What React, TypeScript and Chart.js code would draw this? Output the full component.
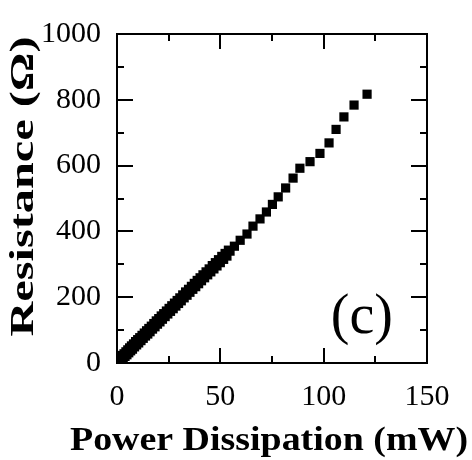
import React, { useEffect, useRef } from 'react';
import { Chart, registerables } from 'chart.js';

Chart.register(...registerables);

// Power dissipation (mW) and resistance (ohm).
// Dense low-power region: two interleaved sweeps; sparse high-power tail.
const powerMW = [
  0.2, 1.0, 1.8, 2.6, 3.4, 4.3, 5.2, 6.1, 7.0, 8.0, 9.0, 10.0, 11.0, 12.1, 13.2,
  14.3, 15.4, 16.6, 17.8, 19.0, 20.2, 21.4, 22.6, 23.9, 25.2, 26.5, 27.8, 29.1,
  30.4, 31.8, 33.2, 34.6, 36.0, 37.4, 38.8, 40.2, 41.6, 43.1, 44.6, 46.1, 47.6,
  49.1, 50.7, 52.3, 53.9,
  0.6, 1.4, 2.2, 3.0, 3.9, 4.8, 5.7, 6.6, 7.5, 8.5, 9.5, 10.5, 11.6, 12.7, 13.8,
  14.9, 16.0, 17.2, 18.4, 19.6, 20.8, 22.0, 23.3, 24.6, 25.9, 27.2, 28.5, 29.8,
  31.1, 32.5, 33.9, 35.3, 36.7, 38.1, 39.5, 40.9, 42.4, 43.9, 45.4, 46.9, 48.4,
  50.0, 51.6, 53.2,
  54.7, 56.8, 59.6, 62.9, 65.8, 69.2, 72.3, 75.2, 78.0, 81.6, 85.2, 88.5,
  93.4, 98.2, 102.6, 106.0, 109.8, 114.7, 121.0,
];
const resistanceOhm = [
  4, 12, 17, 23, 28, 34, 40, 46, 52, 58, 65, 71, 77, 84, 91,
  98, 105, 112, 120, 128, 135, 143, 150, 158, 166, 174, 182, 190,
  198, 207, 216, 224, 233, 242, 251, 259, 268, 277, 286, 296, 305,
  314, 324, 333, 343,
  0, 5, 9, 14, 20, 25, 31, 37, 42, 49, 55, 61, 68, 75, 82,
  88, 95, 103, 110, 118, 125, 133, 141, 149, 157, 165, 173, 181,
  189, 198, 206, 215, 224, 232, 241, 250, 259, 268, 277, 286, 295,
  305, 315, 325,
  340, 355, 373, 392, 416, 438, 459, 482, 505, 532, 562, 592,
  612, 637, 669, 710, 748, 784, 817,
];

const xMin = 0;
const xMax = 150;
const xStep = 25;
const xLabelEvery = 50;
const yMin = 0;
const yMax = 1000;
const yStep = 100;
const yLabelEvery = 200;

const xTitle = 'Power Dissipation (mW)';
const yTitle = 'Resistance (Ω)';
const panelLabel = '(c)';
const panelLabelX = 118.5;
const panelLabelY = 92;

const SERIF = '"Liberation Serif", "Times New Roman", Times, serif';

const frameTicksPlugin = {
  id: 'frameTicks',
  afterDraw(chart: any) {
    const { ctx, chartArea } = chart;
    const { left, right, top, bottom } = chartArea;
    const xs = chart.scales.x;
    const ys = chart.scales.y;
    ctx.save();
    ctx.strokeStyle = '#000';
    ctx.lineWidth = 2;
    ctx.strokeRect(left, top, right - left, bottom - top);
    ctx.beginPath();
    xs.ticks.forEach((t: any) => {
      const px = Math.round(xs.getPixelForValue(t.value));
      const len = t.value % xLabelEvery === 0 ? 15 : 7;
      if (px <= left + 1 || px >= right - 1) return;
      ctx.moveTo(px, bottom);
      ctx.lineTo(px, bottom - len);
      ctx.moveTo(px, top);
      ctx.lineTo(px, top + len);
    });
    ys.ticks.forEach((t: any) => {
      const py = Math.round(ys.getPixelForValue(t.value));
      const len = t.value % yLabelEvery === 0 ? 16 : 7;
      if (py <= top + 1 || py >= bottom - 1) return;
      ctx.moveTo(left, py);
      ctx.lineTo(left + len, py);
      ctx.moveTo(right, py);
      ctx.lineTo(right - len, py);
    });
    ctx.stroke();

    ctx.fillStyle = '#000';
    // panel label
    ctx.font = `56px ${SERIF}`;
    ctx.textAlign = 'center';
    ctx.textBaseline = 'alphabetic';
    ctx.fillText(panelLabel, xs.getPixelForValue(panelLabelX), ys.getPixelForValue(panelLabelY));

    // axis titles (wide bold serif)
    ctx.font = `bold 34px ${SERIF}`;
    const xw = ctx.measureText(xTitle).width;
    const xScaleFactor = 398 / xw;
    ctx.save();
    ctx.translate((left + right) / 2 - 3, 450);
    ctx.scale(xScaleFactor, 1);
    ctx.fillText(xTitle, 0, 0);
    ctx.restore();

    const yw = ctx.measureText(yTitle).width;
    const yScaleFactor = 300 / yw;
    ctx.save();
    ctx.translate(33, (top + bottom) / 2 - 12);
    ctx.rotate(-Math.PI / 2);
    ctx.scale(yScaleFactor, 1);
    ctx.fillText(yTitle, 0, 0);
    ctx.restore();

    ctx.restore();
  },
};

export default function App() {
  const canvasRef = useRef<HTMLCanvasElement | null>(null);

  useEffect(() => {
    const canvas = canvasRef.current;
    if (!canvas) return;
    const points = powerMW.map((x, i) => ({ x, y: resistanceOhm[i] }));
    const chart = new Chart(canvas, {
      type: 'scatter',
      data: {
        datasets: [
          {
            data: points,
            pointStyle: 'rect',
            pointRadius: 6.5,
            pointHoverRadius: 6.5,
            backgroundColor: '#000',
            borderColor: '#000',
            borderWidth: 0,
            showLine: false,
          },
        ],
      },
      options: {
        responsive: false,
        animation: false,
        events: [],
        layout: { padding: { top: 25, right: 45, bottom: 0, left: 0 } },
        plugins: {
          legend: { display: false },
          tooltip: { enabled: false },
        },
        scales: {
          x: {
            type: 'linear',
            min: xMin,
            max: xMax,
            border: { display: false },
            grid: { display: false, drawTicks: false },
            ticks: {
              stepSize: xStep,
              autoSkip: false,
              maxRotation: 0,
              padding: 16,
              color: '#000',
              font: { family: SERIF, size: 30 },
              callback: (v: any) => (Number(v) % xLabelEvery === 0 ? String(v) : ''),
            },
            title: { display: false },
            afterFit: (scale: any) => {
              scale.height = 97;
            },
          },
          y: {
            type: 'linear',
            min: yMin,
            max: yMax,
            border: { display: false },
            grid: { display: false, drawTicks: false },
            ticks: {
              stepSize: yStep,
              autoSkip: false,
              padding: 16,
              color: '#000',
              font: { family: SERIF, size: 30 },
              callback: (v: any) => (Number(v) % yLabelEvery === 0 ? String(v) : ''),
            },
            title: { display: false },
            afterFit: (scale: any) => {
              scale.width = 117;
            },
          },
        },
      },
      plugins: [frameTicksPlugin],
    });
    return () => chart.destroy();
  }, []);

  return (
    <div style={{ position: 'fixed', left: 0, top: 0, width: 472, height: 460, background: '#fff' }}>
      <canvas ref={canvasRef} width={472} height={460} />
    </div>
  );
}
